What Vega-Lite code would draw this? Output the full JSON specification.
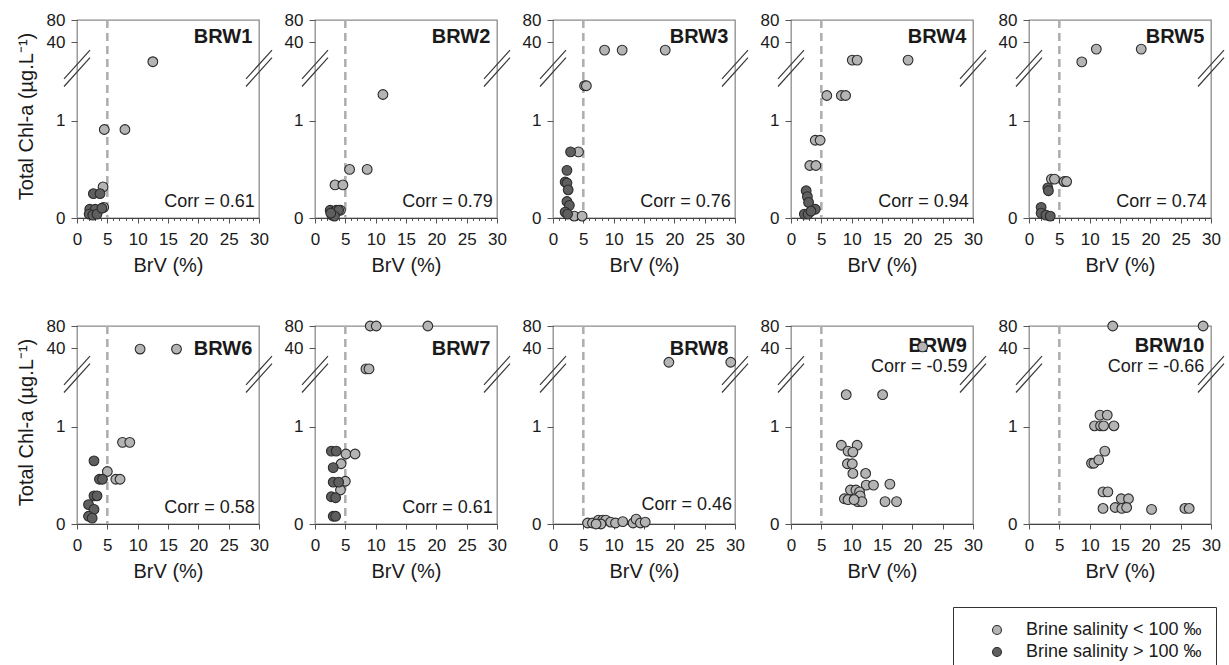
{
"$schema":"https://vega.github.io/schema/vega-lite/v6.json",
"padding":{"left":15,"top":10,"right":5,"bottom":5},
"datasets":{"d":[
{"p":"BRW1","x":4.3,"y":0.32,"s":"a"},{"p":"BRW1","x":4.4,"y":0.11,"s":"a"},{"p":"BRW1","x":4.5,"y":0.91,"s":"a"},{"p":"BRW1","x":7.9,"y":0.91,"s":"a"},{"p":"BRW1","x":12.5,"y":21.5,"s":"a"},
{"p":"BRW1","x":2.7,"y":0.25,"s":"b"},{"p":"BRW1","x":3.8,"y":0.25,"s":"b"},{"p":"BRW1","x":2.1,"y":0.09,"s":"b"},{"p":"BRW1","x":3.0,"y":0.09,"s":"b"},{"p":"BRW1","x":2.0,"y":0.04,"s":"b"},{"p":"BRW1","x":2.6,"y":0.03,"s":"b"},{"p":"BRW1","x":3.3,"y":0.04,"s":"b"},{"p":"BRW1","x":4.1,"y":0.1,"s":"b"},
{"p":"BRW2","x":11.2,"y":1.27,"s":"a"},{"p":"BRW2","x":5.7,"y":0.5,"s":"a"},{"p":"BRW2","x":8.6,"y":0.5,"s":"a"},{"p":"BRW2","x":3.3,"y":0.34,"s":"a"},{"p":"BRW2","x":4.6,"y":0.34,"s":"a"},{"p":"BRW2","x":4.2,"y":0.08,"s":"a"},
{"p":"BRW2","x":2.5,"y":0.08,"s":"b"},{"p":"BRW2","x":3.0,"y":0.06,"s":"b"},{"p":"BRW2","x":3.5,"y":0.08,"s":"b"},{"p":"BRW2","x":3.9,"y":0.08,"s":"b"},{"p":"BRW2","x":2.8,"y":0.03,"s":"b"},{"p":"BRW2","x":3.2,"y":0.02,"s":"b"},{"p":"BRW2","x":2.6,"y":0.05,"s":"b"},
{"p":"BRW3","x":8.5,"y":31,"s":"a"},{"p":"BRW3","x":11.4,"y":31,"s":"a"},{"p":"BRW3","x":18.5,"y":31,"s":"a"},{"p":"BRW3","x":5.2,"y":1.36,"s":"a"},{"p":"BRW3","x":5.5,"y":1.36,"s":"a"},{"p":"BRW3","x":4.2,"y":0.68,"s":"a"},{"p":"BRW3","x":3.5,"y":0.02,"s":"a"},{"p":"BRW3","x":4.8,"y":0.02,"s":"a"},
{"p":"BRW3","x":2.9,"y":0.68,"s":"b"},{"p":"BRW3","x":2.3,"y":0.49,"s":"b"},{"p":"BRW3","x":2.0,"y":0.37,"s":"b"},{"p":"BRW3","x":2.3,"y":0.36,"s":"b"},{"p":"BRW3","x":2.5,"y":0.29,"s":"b"},{"p":"BRW3","x":2.3,"y":0.17,"s":"b"},{"p":"BRW3","x":2.7,"y":0.13,"s":"b"},{"p":"BRW3","x":2.0,"y":0.06,"s":"b"},{"p":"BRW3","x":2.4,"y":0.04,"s":"b"},
{"p":"BRW4","x":10.1,"y":22.6,"s":"a"},{"p":"BRW4","x":10.9,"y":22.6,"s":"a"},{"p":"BRW4","x":19.3,"y":22.6,"s":"a"},{"p":"BRW4","x":5.9,"y":1.26,"s":"a"},{"p":"BRW4","x":8.3,"y":1.26,"s":"a"},{"p":"BRW4","x":9.0,"y":1.26,"s":"a"},{"p":"BRW4","x":4.0,"y":0.8,"s":"a"},{"p":"BRW4","x":4.8,"y":0.8,"s":"a"},{"p":"BRW4","x":3.1,"y":0.54,"s":"a"},{"p":"BRW4","x":4.1,"y":0.54,"s":"a"},
{"p":"BRW4","x":2.5,"y":0.28,"s":"b"},{"p":"BRW4","x":2.7,"y":0.22,"s":"b"},{"p":"BRW4","x":2.9,"y":0.16,"s":"b"},{"p":"BRW4","x":4.0,"y":0.09,"s":"b"},{"p":"BRW4","x":2.2,"y":0.04,"s":"b"},{"p":"BRW4","x":2.8,"y":0.04,"s":"b"},{"p":"BRW4","x":3.3,"y":0.07,"s":"b"},
{"p":"BRW5","x":8.7,"y":21.4,"s":"a"},{"p":"BRW5","x":11.1,"y":32,"s":"a"},{"p":"BRW5","x":18.5,"y":32,"s":"a"},{"p":"BRW5","x":3.7,"y":0.4,"s":"a"},{"p":"BRW5","x":4.2,"y":0.4,"s":"a"},{"p":"BRW5","x":5.8,"y":0.375,"s":"a"},{"p":"BRW5","x":6.2,"y":0.375,"s":"a"},
{"p":"BRW5","x":3.1,"y":0.31,"s":"b"},{"p":"BRW5","x":3.2,"y":0.28,"s":"b"},{"p":"BRW5","x":2.0,"y":0.11,"s":"b"},{"p":"BRW5","x":2.0,"y":0.05,"s":"b"},{"p":"BRW5","x":2.8,"y":0.03,"s":"b"},{"p":"BRW5","x":3.5,"y":0.02,"s":"b"},
{"p":"BRW6","x":10.4,"y":38.7,"s":"a"},{"p":"BRW6","x":16.4,"y":38.7,"s":"a"},{"p":"BRW6","x":7.5,"y":0.84,"s":"a"},{"p":"BRW6","x":8.7,"y":0.84,"s":"a"},{"p":"BRW6","x":5.0,"y":0.54,"s":"a"},{"p":"BRW6","x":6.4,"y":0.46,"s":"a"},{"p":"BRW6","x":7.1,"y":0.46,"s":"a"},
{"p":"BRW6","x":2.8,"y":0.65,"s":"b"},{"p":"BRW6","x":3.7,"y":0.46,"s":"b"},{"p":"BRW6","x":4.2,"y":0.46,"s":"b"},{"p":"BRW6","x":2.8,"y":0.29,"s":"b"},{"p":"BRW6","x":3.3,"y":0.29,"s":"b"},{"p":"BRW6","x":1.9,"y":0.2,"s":"b"},{"p":"BRW6","x":2.8,"y":0.15,"s":"b"},{"p":"BRW6","x":1.9,"y":0.08,"s":"b"},{"p":"BRW6","x":2.5,"y":0.06,"s":"b"},
{"p":"BRW7","x":9.1,"y":80,"s":"a"},{"p":"BRW7","x":10.1,"y":80,"s":"a"},{"p":"BRW7","x":18.6,"y":80,"s":"a"},{"p":"BRW7","x":8.4,"y":20.7,"s":"a"},{"p":"BRW7","x":8.9,"y":20.7,"s":"a"},{"p":"BRW7","x":5.1,"y":0.72,"s":"a"},{"p":"BRW7","x":6.6,"y":0.72,"s":"a"},{"p":"BRW7","x":4.3,"y":0.62,"s":"a"},{"p":"BRW7","x":5.0,"y":0.44,"s":"a"},{"p":"BRW7","x":4.2,"y":0.35,"s":"a"},
{"p":"BRW7","x":2.7,"y":0.75,"s":"b"},{"p":"BRW7","x":3.5,"y":0.75,"s":"b"},{"p":"BRW7","x":3.0,"y":0.58,"s":"b"},{"p":"BRW7","x":3.0,"y":0.43,"s":"b"},{"p":"BRW7","x":3.9,"y":0.43,"s":"b"},{"p":"BRW7","x":2.7,"y":0.28,"s":"b"},{"p":"BRW7","x":3.4,"y":0.27,"s":"b"},{"p":"BRW7","x":3.0,"y":0.08,"s":"b"},{"p":"BRW7","x":3.4,"y":0.08,"s":"b"},
{"p":"BRW8","x":19.1,"y":25.5,"s":"a"},{"p":"BRW8","x":29.3,"y":25.5,"s":"a"},{"p":"BRW8","x":5.7,"y":0.01,"s":"a"},{"p":"BRW8","x":6.5,"y":0.01,"s":"a"},{"p":"BRW8","x":7.5,"y":0.04,"s":"a"},{"p":"BRW8","x":8.2,"y":0.04,"s":"a"},{"p":"BRW8","x":8.7,"y":0.04,"s":"a"},{"p":"BRW8","x":9.5,"y":0.02,"s":"a"},{"p":"BRW8","x":10.3,"y":0.01,"s":"a"},{"p":"BRW8","x":11.5,"y":0.025,"s":"a"},{"p":"BRW8","x":13.2,"y":0.01,"s":"a"},{"p":"BRW8","x":13.7,"y":0.05,"s":"a"},{"p":"BRW8","x":14.4,"y":0.01,"s":"a"},{"p":"BRW8","x":15.2,"y":0.02,"s":"a"},{"p":"BRW8","x":7.9,"y":0.0,"s":"a"},{"p":"BRW8","x":7.1,"y":0.0,"s":"a"},
{"p":"BRW9","x":21.7,"y":41.4,"s":"a"},{"p":"BRW9","x":9.1,"y":1.33,"s":"a"},{"p":"BRW9","x":15.1,"y":1.33,"s":"a"},{"p":"BRW9","x":8.3,"y":0.81,"s":"a"},{"p":"BRW9","x":10.9,"y":0.81,"s":"a"},{"p":"BRW9","x":9.4,"y":0.75,"s":"a"},{"p":"BRW9","x":10.2,"y":0.74,"s":"a"},{"p":"BRW9","x":9.3,"y":0.62,"s":"a"},{"p":"BRW9","x":10.1,"y":0.62,"s":"a"},{"p":"BRW9","x":10.2,"y":0.52,"s":"a"},{"p":"BRW9","x":12.3,"y":0.52,"s":"a"},{"p":"BRW9","x":12.4,"y":0.4,"s":"a"},{"p":"BRW9","x":13.6,"y":0.4,"s":"a"},{"p":"BRW9","x":16.3,"y":0.41,"s":"a"},{"p":"BRW9","x":9.8,"y":0.35,"s":"a"},{"p":"BRW9","x":10.7,"y":0.35,"s":"a"},{"p":"BRW9","x":11.3,"y":0.33,"s":"a"},{"p":"BRW9","x":8.8,"y":0.26,"s":"a"},{"p":"BRW9","x":9.4,"y":0.25,"s":"a"},{"p":"BRW9","x":11.0,"y":0.23,"s":"a"},{"p":"BRW9","x":11.4,"y":0.29,"s":"a"},{"p":"BRW9","x":11.7,"y":0.23,"s":"a"},{"p":"BRW9","x":15.5,"y":0.23,"s":"a"},{"p":"BRW9","x":17.4,"y":0.23,"s":"a"},{"p":"BRW9","x":10.4,"y":0.25,"s":"a"},
{"p":"BRW10","x":13.8,"y":80,"s":"a"},{"p":"BRW10","x":28.7,"y":80,"s":"a"},{"p":"BRW10","x":11.7,"y":1.12,"s":"a"},{"p":"BRW10","x":12.9,"y":1.12,"s":"a"},{"p":"BRW10","x":10.8,"y":1.01,"s":"a"},{"p":"BRW10","x":11.8,"y":1.01,"s":"a"},{"p":"BRW10","x":12.3,"y":1.01,"s":"a"},{"p":"BRW10","x":14.0,"y":1.01,"s":"a"},{"p":"BRW10","x":12.5,"y":0.75,"s":"a"},{"p":"BRW10","x":10.3,"y":0.625,"s":"a"},{"p":"BRW10","x":10.7,"y":0.625,"s":"a"},{"p":"BRW10","x":11.5,"y":0.66,"s":"a"},{"p":"BRW10","x":12.2,"y":0.33,"s":"a"},{"p":"BRW10","x":13.0,"y":0.33,"s":"a"},{"p":"BRW10","x":15.2,"y":0.26,"s":"a"},{"p":"BRW10","x":16.4,"y":0.26,"s":"a"},{"p":"BRW10","x":12.2,"y":0.16,"s":"a"},{"p":"BRW10","x":14.2,"y":0.17,"s":"a"},{"p":"BRW10","x":15.3,"y":0.16,"s":"a"},{"p":"BRW10","x":16.1,"y":0.17,"s":"a"},{"p":"BRW10","x":20.2,"y":0.15,"s":"a"},{"p":"BRW10","x":25.7,"y":0.16,"s":"a"},{"p":"BRW10","x":26.4,"y":0.16,"s":"a"}
]},
"columns":5,
"spacing":{"row":108,"column":56},
"bounds":"flush",
"concat":[
{"width":182,"height":198,"layer":[
 {"data":{"values":[{}]},"mark":{"type":"rule","color":"#adadad","strokeWidth":2.5,"strokeDash":[8,5]},"encoding":{"x":{"datum":5,"type":"quantitative","axis":{"values":[0,1,2,3,4,5,6,7,8,9,10,11,12,13,14,15,16,17,18,19,20,21,22,23,24,25,26,27,28,29,30],"labelOverlap":false,"labelOpacity":{"condition":{"test":"datum.value % 5 === 0","value":1},"value":0},"tickDash":{"condition":{"test":"datum.value % 5 === 0","value":[6,0]},"value":[2.5,20]},"title":"BrV (%)"}}}},
 {"layer":[
  {"data":{"values":[{}]},"mark":{"type":"text","text":"BRW1","align":"right","baseline":"middle","fontSize":20,"fontWeight":"bold","color":"#1a1a1a"},"encoding":{"x":{"datum":28.9,"type":"quantitative","axis":{"values":[0,1,2,3,4,5,6,7,8,9,10,11,12,13,14,15,16,17,18,19,20,21,22,23,24,25,26,27,28,29,30],"labelOverlap":false,"labelOpacity":{"condition":{"test":"datum.value % 5 === 0","value":1},"value":0},"tickDash":{"condition":{"test":"datum.value % 5 === 0","value":[6,0]},"value":[2.5,20]},"title":"BrV (%)"}},"y":{"datum":1.86,"type":"quantitative"}}},
  {"data":{"values":[{}]},"mark":{"type":"text","text":"Corr = 0.61","align":"right","baseline":"middle","fontSize":18,"color":"#1a1a1a"},"encoding":{"x":{"datum":29.3,"type":"quantitative","axis":{"values":[0,1,2,3,4,5,6,7,8,9,10,11,12,13,14,15,16,17,18,19,20,21,22,23,24,25,26,27,28,29,30],"labelOverlap":false,"labelOpacity":{"condition":{"test":"datum.value % 5 === 0","value":1},"value":0},"tickDash":{"condition":{"test":"datum.value % 5 === 0","value":[6,0]},"value":[2.5,20]},"title":"BrV (%)"}},"y":{"datum":0.165,"type":"quantitative"}}},
  {"data":{"values":[{}]},"mark":{"type":"point","shape":"M-0.65,0.53L0.65,-0.91M-0.65,0.91L0.65,-0.53","size":1600,"filled":false,"stroke":"#3a3a3a","strokeWidth":1.2},"encoding":{"x":{"datum":0,"type":"quantitative","axis":{"values":[0,1,2,3,4,5,6,7,8,9,10,11,12,13,14,15,16,17,18,19,20,21,22,23,24,25,26,27,28,29,30],"labelOverlap":false,"labelOpacity":{"condition":{"test":"datum.value % 5 === 0","value":1},"value":0},"tickDash":{"condition":{"test":"datum.value % 5 === 0","value":[6,0]},"value":[2.5,20]},"title":"BrV (%)"}},"y":{"datum":1.54,"type":"quantitative"}}},
  {"data":{"values":[{}]},"mark":{"type":"point","shape":"M-0.65,0.53L0.65,-0.91M-0.65,0.91L0.65,-0.53","size":1600,"filled":false,"stroke":"#3a3a3a","strokeWidth":1.2},"encoding":{"x":{"datum":30,"type":"quantitative","axis":{"values":[0,1,2,3,4,5,6,7,8,9,10,11,12,13,14,15,16,17,18,19,20,21,22,23,24,25,26,27,28,29,30],"labelOverlap":false,"labelOpacity":{"condition":{"test":"datum.value % 5 === 0","value":1},"value":0},"tickDash":{"condition":{"test":"datum.value % 5 === 0","value":[6,0]},"value":[2.5,20]},"title":"BrV (%)"}},"y":{"datum":1.54,"type":"quantitative"}}},
  {"data":{"name":"d"},"transform":[{"filter":"datum.p=='BRW1' && datum.y<2"}],"mark":"point","encoding":{
   "x":{"field":"x","type":"quantitative","scale":{"domain":[0,30],"nice":false},"axis":{"values":[0,1,2,3,4,5,6,7,8,9,10,11,12,13,14,15,16,17,18,19,20,21,22,23,24,25,26,27,28,29,30],"labelOverlap":false,"labelOpacity":{"condition":{"test":"datum.value % 5 === 0","value":1},"value":0},"tickDash":{"condition":{"test":"datum.value % 5 === 0","value":[6,0]},"value":[2.5,20]},"title":"BrV (%)"}},
   "y":{"field":"y","type":"quantitative","scale":{"domain":[0,1.44],"range":[198,58],"nice":false,"zero":false},"axis":{"values":[0,1],"orient":"left","title":"Total Chl-a (µg.L⁻¹)","titleY":96}},
   "color":{"field":"s","type":"nominal","scale":{"domain":["a","b"],"range":["#b4b4b4","#5f5f5f"]},"legend":{"orient":"none","legendX":876,"legendY":587,"title":null,"labelExpr":"datum.value == 'a' ? 'Brine salinity < 100 ‰' : 'Brine salinity > 100 ‰'"}}}}
 ]},
 {"data":{"name":"d"},"transform":[{"filter":"datum.p=='BRW1' && datum.y>=2"}],"mark":"point","encoding":{
   "x":{"field":"x","type":"quantitative","scale":{"domain":[0,30],"nice":false},"axis":{"values":[0,1,2,3,4,5,6,7,8,9,10,11,12,13,14,15,16,17,18,19,20,21,22,23,24,25,26,27,28,29,30],"labelOverlap":false,"labelOpacity":{"condition":{"test":"datum.value % 5 === 0","value":1},"value":0},"tickDash":{"condition":{"test":"datum.value % 5 === 0","value":[6,0]},"value":[2.5,20]},"title":"BrV (%)"}},
   "y":{"field":"y","type":"quantitative","scale":{"type":"log","domain":[10,80],"range":[66,0],"nice":false},"axis":{"values":[40,80],"orient":"left","title":null}},
   "color":{"field":"s","type":"nominal"}}}
],"resolve":{"scale":{"y":"independent"},"axis":{"y":"independent"}}},

{"width":182,"height":198,"layer":[
 {"data":{"values":[{}]},"mark":{"type":"rule","color":"#adadad","strokeWidth":2.5,"strokeDash":[8,5]},"encoding":{"x":{"datum":5,"type":"quantitative","axis":{"values":[0,1,2,3,4,5,6,7,8,9,10,11,12,13,14,15,16,17,18,19,20,21,22,23,24,25,26,27,28,29,30],"labelOverlap":false,"labelOpacity":{"condition":{"test":"datum.value % 5 === 0","value":1},"value":0},"tickDash":{"condition":{"test":"datum.value % 5 === 0","value":[6,0]},"value":[2.5,20]},"title":"BrV (%)"}}}},
 {"layer":[
  {"data":{"values":[{}]},"mark":{"type":"text","text":"BRW2","align":"right","baseline":"middle","fontSize":20,"fontWeight":"bold","color":"#1a1a1a"},"encoding":{"x":{"datum":28.9,"type":"quantitative","axis":{"values":[0,1,2,3,4,5,6,7,8,9,10,11,12,13,14,15,16,17,18,19,20,21,22,23,24,25,26,27,28,29,30],"labelOverlap":false,"labelOpacity":{"condition":{"test":"datum.value % 5 === 0","value":1},"value":0},"tickDash":{"condition":{"test":"datum.value % 5 === 0","value":[6,0]},"value":[2.5,20]},"title":"BrV (%)"}},"y":{"datum":1.86,"type":"quantitative"}}},
  {"data":{"values":[{}]},"mark":{"type":"text","text":"Corr = 0.79","align":"right","baseline":"middle","fontSize":18,"color":"#1a1a1a"},"encoding":{"x":{"datum":29.3,"type":"quantitative","axis":{"values":[0,1,2,3,4,5,6,7,8,9,10,11,12,13,14,15,16,17,18,19,20,21,22,23,24,25,26,27,28,29,30],"labelOverlap":false,"labelOpacity":{"condition":{"test":"datum.value % 5 === 0","value":1},"value":0},"tickDash":{"condition":{"test":"datum.value % 5 === 0","value":[6,0]},"value":[2.5,20]},"title":"BrV (%)"}},"y":{"datum":0.165,"type":"quantitative"}}},
  {"data":{"values":[{}]},"mark":{"type":"point","shape":"M-0.65,0.53L0.65,-0.91M-0.65,0.91L0.65,-0.53","size":1600,"filled":false,"stroke":"#3a3a3a","strokeWidth":1.2},"encoding":{"x":{"datum":0,"type":"quantitative","axis":{"values":[0,1,2,3,4,5,6,7,8,9,10,11,12,13,14,15,16,17,18,19,20,21,22,23,24,25,26,27,28,29,30],"labelOverlap":false,"labelOpacity":{"condition":{"test":"datum.value % 5 === 0","value":1},"value":0},"tickDash":{"condition":{"test":"datum.value % 5 === 0","value":[6,0]},"value":[2.5,20]},"title":"BrV (%)"}},"y":{"datum":1.54,"type":"quantitative"}}},
  {"data":{"values":[{}]},"mark":{"type":"point","shape":"M-0.65,0.53L0.65,-0.91M-0.65,0.91L0.65,-0.53","size":1600,"filled":false,"stroke":"#3a3a3a","strokeWidth":1.2},"encoding":{"x":{"datum":30,"type":"quantitative","axis":{"values":[0,1,2,3,4,5,6,7,8,9,10,11,12,13,14,15,16,17,18,19,20,21,22,23,24,25,26,27,28,29,30],"labelOverlap":false,"labelOpacity":{"condition":{"test":"datum.value % 5 === 0","value":1},"value":0},"tickDash":{"condition":{"test":"datum.value % 5 === 0","value":[6,0]},"value":[2.5,20]},"title":"BrV (%)"}},"y":{"datum":1.54,"type":"quantitative"}}},
  {"data":{"name":"d"},"transform":[{"filter":"datum.p=='BRW2' && datum.y<2"}],"mark":"point","encoding":{
   "x":{"field":"x","type":"quantitative","scale":{"domain":[0,30],"nice":false},"axis":{"values":[0,1,2,3,4,5,6,7,8,9,10,11,12,13,14,15,16,17,18,19,20,21,22,23,24,25,26,27,28,29,30],"labelOverlap":false,"labelOpacity":{"condition":{"test":"datum.value % 5 === 0","value":1},"value":0},"tickDash":{"condition":{"test":"datum.value % 5 === 0","value":[6,0]},"value":[2.5,20]},"title":"BrV (%)"}},
   "y":{"field":"y","type":"quantitative","scale":{"domain":[0,1.44],"range":[198,58],"nice":false,"zero":false},"axis":{"values":[0,1],"orient":"left","title":null}},
   "color":{"field":"s","type":"nominal"}}}
 ]},
 {"data":{"name":"d"},"transform":[{"filter":"datum.p=='BRW2' && datum.y>=2"}],"mark":"point","encoding":{
   "x":{"field":"x","type":"quantitative","scale":{"domain":[0,30],"nice":false},"axis":{"values":[0,1,2,3,4,5,6,7,8,9,10,11,12,13,14,15,16,17,18,19,20,21,22,23,24,25,26,27,28,29,30],"labelOverlap":false,"labelOpacity":{"condition":{"test":"datum.value % 5 === 0","value":1},"value":0},"tickDash":{"condition":{"test":"datum.value % 5 === 0","value":[6,0]},"value":[2.5,20]},"title":"BrV (%)"}},
   "y":{"field":"y","type":"quantitative","scale":{"type":"log","domain":[10,80],"range":[66,0],"nice":false},"axis":{"values":[40,80],"orient":"left","title":null}},
   "color":{"field":"s","type":"nominal"}}}
],"resolve":{"scale":{"y":"independent"},"axis":{"y":"independent"}}},

{"width":182,"height":198,"layer":[
 {"data":{"values":[{}]},"mark":{"type":"rule","color":"#adadad","strokeWidth":2.5,"strokeDash":[8,5]},"encoding":{"x":{"datum":5,"type":"quantitative","axis":{"values":[0,1,2,3,4,5,6,7,8,9,10,11,12,13,14,15,16,17,18,19,20,21,22,23,24,25,26,27,28,29,30],"labelOverlap":false,"labelOpacity":{"condition":{"test":"datum.value % 5 === 0","value":1},"value":0},"tickDash":{"condition":{"test":"datum.value % 5 === 0","value":[6,0]},"value":[2.5,20]},"title":"BrV (%)"}}}},
 {"layer":[
  {"data":{"values":[{}]},"mark":{"type":"text","text":"BRW3","align":"right","baseline":"middle","fontSize":20,"fontWeight":"bold","color":"#1a1a1a"},"encoding":{"x":{"datum":28.9,"type":"quantitative","axis":{"values":[0,1,2,3,4,5,6,7,8,9,10,11,12,13,14,15,16,17,18,19,20,21,22,23,24,25,26,27,28,29,30],"labelOverlap":false,"labelOpacity":{"condition":{"test":"datum.value % 5 === 0","value":1},"value":0},"tickDash":{"condition":{"test":"datum.value % 5 === 0","value":[6,0]},"value":[2.5,20]},"title":"BrV (%)"}},"y":{"datum":1.86,"type":"quantitative"}}},
  {"data":{"values":[{}]},"mark":{"type":"text","text":"Corr = 0.76","align":"right","baseline":"middle","fontSize":18,"color":"#1a1a1a"},"encoding":{"x":{"datum":29.3,"type":"quantitative","axis":{"values":[0,1,2,3,4,5,6,7,8,9,10,11,12,13,14,15,16,17,18,19,20,21,22,23,24,25,26,27,28,29,30],"labelOverlap":false,"labelOpacity":{"condition":{"test":"datum.value % 5 === 0","value":1},"value":0},"tickDash":{"condition":{"test":"datum.value % 5 === 0","value":[6,0]},"value":[2.5,20]},"title":"BrV (%)"}},"y":{"datum":0.165,"type":"quantitative"}}},
  {"data":{"values":[{}]},"mark":{"type":"point","shape":"M-0.65,0.53L0.65,-0.91M-0.65,0.91L0.65,-0.53","size":1600,"filled":false,"stroke":"#3a3a3a","strokeWidth":1.2},"encoding":{"x":{"datum":0,"type":"quantitative","axis":{"values":[0,1,2,3,4,5,6,7,8,9,10,11,12,13,14,15,16,17,18,19,20,21,22,23,24,25,26,27,28,29,30],"labelOverlap":false,"labelOpacity":{"condition":{"test":"datum.value % 5 === 0","value":1},"value":0},"tickDash":{"condition":{"test":"datum.value % 5 === 0","value":[6,0]},"value":[2.5,20]},"title":"BrV (%)"}},"y":{"datum":1.54,"type":"quantitative"}}},
  {"data":{"values":[{}]},"mark":{"type":"point","shape":"M-0.65,0.53L0.65,-0.91M-0.65,0.91L0.65,-0.53","size":1600,"filled":false,"stroke":"#3a3a3a","strokeWidth":1.2},"encoding":{"x":{"datum":30,"type":"quantitative","axis":{"values":[0,1,2,3,4,5,6,7,8,9,10,11,12,13,14,15,16,17,18,19,20,21,22,23,24,25,26,27,28,29,30],"labelOverlap":false,"labelOpacity":{"condition":{"test":"datum.value % 5 === 0","value":1},"value":0},"tickDash":{"condition":{"test":"datum.value % 5 === 0","value":[6,0]},"value":[2.5,20]},"title":"BrV (%)"}},"y":{"datum":1.54,"type":"quantitative"}}},
  {"data":{"name":"d"},"transform":[{"filter":"datum.p=='BRW3' && datum.y<2"}],"mark":"point","encoding":{
   "x":{"field":"x","type":"quantitative","scale":{"domain":[0,30],"nice":false},"axis":{"values":[0,1,2,3,4,5,6,7,8,9,10,11,12,13,14,15,16,17,18,19,20,21,22,23,24,25,26,27,28,29,30],"labelOverlap":false,"labelOpacity":{"condition":{"test":"datum.value % 5 === 0","value":1},"value":0},"tickDash":{"condition":{"test":"datum.value % 5 === 0","value":[6,0]},"value":[2.5,20]},"title":"BrV (%)"}},
   "y":{"field":"y","type":"quantitative","scale":{"domain":[0,1.44],"range":[198,58],"nice":false,"zero":false},"axis":{"values":[0,1],"orient":"left","title":null}},
   "color":{"field":"s","type":"nominal"}}}
 ]},
 {"data":{"name":"d"},"transform":[{"filter":"datum.p=='BRW3' && datum.y>=2"}],"mark":"point","encoding":{
   "x":{"field":"x","type":"quantitative","scale":{"domain":[0,30],"nice":false},"axis":{"values":[0,1,2,3,4,5,6,7,8,9,10,11,12,13,14,15,16,17,18,19,20,21,22,23,24,25,26,27,28,29,30],"labelOverlap":false,"labelOpacity":{"condition":{"test":"datum.value % 5 === 0","value":1},"value":0},"tickDash":{"condition":{"test":"datum.value % 5 === 0","value":[6,0]},"value":[2.5,20]},"title":"BrV (%)"}},
   "y":{"field":"y","type":"quantitative","scale":{"type":"log","domain":[10,80],"range":[66,0],"nice":false},"axis":{"values":[40,80],"orient":"left","title":null}},
   "color":{"field":"s","type":"nominal"}}}
],"resolve":{"scale":{"y":"independent"},"axis":{"y":"independent"}}},

{"width":182,"height":198,"layer":[
 {"data":{"values":[{}]},"mark":{"type":"rule","color":"#adadad","strokeWidth":2.5,"strokeDash":[8,5]},"encoding":{"x":{"datum":5,"type":"quantitative","axis":{"values":[0,1,2,3,4,5,6,7,8,9,10,11,12,13,14,15,16,17,18,19,20,21,22,23,24,25,26,27,28,29,30],"labelOverlap":false,"labelOpacity":{"condition":{"test":"datum.value % 5 === 0","value":1},"value":0},"tickDash":{"condition":{"test":"datum.value % 5 === 0","value":[6,0]},"value":[2.5,20]},"title":"BrV (%)"}}}},
 {"layer":[
  {"data":{"values":[{}]},"mark":{"type":"text","text":"BRW4","align":"right","baseline":"middle","fontSize":20,"fontWeight":"bold","color":"#1a1a1a"},"encoding":{"x":{"datum":28.9,"type":"quantitative","axis":{"values":[0,1,2,3,4,5,6,7,8,9,10,11,12,13,14,15,16,17,18,19,20,21,22,23,24,25,26,27,28,29,30],"labelOverlap":false,"labelOpacity":{"condition":{"test":"datum.value % 5 === 0","value":1},"value":0},"tickDash":{"condition":{"test":"datum.value % 5 === 0","value":[6,0]},"value":[2.5,20]},"title":"BrV (%)"}},"y":{"datum":1.86,"type":"quantitative"}}},
  {"data":{"values":[{}]},"mark":{"type":"text","text":"Corr = 0.94","align":"right","baseline":"middle","fontSize":18,"color":"#1a1a1a"},"encoding":{"x":{"datum":29.3,"type":"quantitative","axis":{"values":[0,1,2,3,4,5,6,7,8,9,10,11,12,13,14,15,16,17,18,19,20,21,22,23,24,25,26,27,28,29,30],"labelOverlap":false,"labelOpacity":{"condition":{"test":"datum.value % 5 === 0","value":1},"value":0},"tickDash":{"condition":{"test":"datum.value % 5 === 0","value":[6,0]},"value":[2.5,20]},"title":"BrV (%)"}},"y":{"datum":0.165,"type":"quantitative"}}},
  {"data":{"values":[{}]},"mark":{"type":"point","shape":"M-0.65,0.53L0.65,-0.91M-0.65,0.91L0.65,-0.53","size":1600,"filled":false,"stroke":"#3a3a3a","strokeWidth":1.2},"encoding":{"x":{"datum":0,"type":"quantitative","axis":{"values":[0,1,2,3,4,5,6,7,8,9,10,11,12,13,14,15,16,17,18,19,20,21,22,23,24,25,26,27,28,29,30],"labelOverlap":false,"labelOpacity":{"condition":{"test":"datum.value % 5 === 0","value":1},"value":0},"tickDash":{"condition":{"test":"datum.value % 5 === 0","value":[6,0]},"value":[2.5,20]},"title":"BrV (%)"}},"y":{"datum":1.54,"type":"quantitative"}}},
  {"data":{"values":[{}]},"mark":{"type":"point","shape":"M-0.65,0.53L0.65,-0.91M-0.65,0.91L0.65,-0.53","size":1600,"filled":false,"stroke":"#3a3a3a","strokeWidth":1.2},"encoding":{"x":{"datum":30,"type":"quantitative","axis":{"values":[0,1,2,3,4,5,6,7,8,9,10,11,12,13,14,15,16,17,18,19,20,21,22,23,24,25,26,27,28,29,30],"labelOverlap":false,"labelOpacity":{"condition":{"test":"datum.value % 5 === 0","value":1},"value":0},"tickDash":{"condition":{"test":"datum.value % 5 === 0","value":[6,0]},"value":[2.5,20]},"title":"BrV (%)"}},"y":{"datum":1.54,"type":"quantitative"}}},
  {"data":{"name":"d"},"transform":[{"filter":"datum.p=='BRW4' && datum.y<2"}],"mark":"point","encoding":{
   "x":{"field":"x","type":"quantitative","scale":{"domain":[0,30],"nice":false},"axis":{"values":[0,1,2,3,4,5,6,7,8,9,10,11,12,13,14,15,16,17,18,19,20,21,22,23,24,25,26,27,28,29,30],"labelOverlap":false,"labelOpacity":{"condition":{"test":"datum.value % 5 === 0","value":1},"value":0},"tickDash":{"condition":{"test":"datum.value % 5 === 0","value":[6,0]},"value":[2.5,20]},"title":"BrV (%)"}},
   "y":{"field":"y","type":"quantitative","scale":{"domain":[0,1.44],"range":[198,58],"nice":false,"zero":false},"axis":{"values":[0,1],"orient":"left","title":null}},
   "color":{"field":"s","type":"nominal"}}}
 ]},
 {"data":{"name":"d"},"transform":[{"filter":"datum.p=='BRW4' && datum.y>=2"}],"mark":"point","encoding":{
   "x":{"field":"x","type":"quantitative","scale":{"domain":[0,30],"nice":false},"axis":{"values":[0,1,2,3,4,5,6,7,8,9,10,11,12,13,14,15,16,17,18,19,20,21,22,23,24,25,26,27,28,29,30],"labelOverlap":false,"labelOpacity":{"condition":{"test":"datum.value % 5 === 0","value":1},"value":0},"tickDash":{"condition":{"test":"datum.value % 5 === 0","value":[6,0]},"value":[2.5,20]},"title":"BrV (%)"}},
   "y":{"field":"y","type":"quantitative","scale":{"type":"log","domain":[10,80],"range":[66,0],"nice":false},"axis":{"values":[40,80],"orient":"left","title":null}},
   "color":{"field":"s","type":"nominal"}}}
],"resolve":{"scale":{"y":"independent"},"axis":{"y":"independent"}}},

{"width":182,"height":198,"layer":[
 {"data":{"values":[{}]},"mark":{"type":"rule","color":"#adadad","strokeWidth":2.5,"strokeDash":[8,5]},"encoding":{"x":{"datum":5,"type":"quantitative","axis":{"values":[0,1,2,3,4,5,6,7,8,9,10,11,12,13,14,15,16,17,18,19,20,21,22,23,24,25,26,27,28,29,30],"labelOverlap":false,"labelOpacity":{"condition":{"test":"datum.value % 5 === 0","value":1},"value":0},"tickDash":{"condition":{"test":"datum.value % 5 === 0","value":[6,0]},"value":[2.5,20]},"title":"BrV (%)"}}}},
 {"layer":[
  {"data":{"values":[{}]},"mark":{"type":"text","text":"BRW5","align":"right","baseline":"middle","fontSize":20,"fontWeight":"bold","color":"#1a1a1a"},"encoding":{"x":{"datum":28.9,"type":"quantitative","axis":{"values":[0,1,2,3,4,5,6,7,8,9,10,11,12,13,14,15,16,17,18,19,20,21,22,23,24,25,26,27,28,29,30],"labelOverlap":false,"labelOpacity":{"condition":{"test":"datum.value % 5 === 0","value":1},"value":0},"tickDash":{"condition":{"test":"datum.value % 5 === 0","value":[6,0]},"value":[2.5,20]},"title":"BrV (%)"}},"y":{"datum":1.86,"type":"quantitative"}}},
  {"data":{"values":[{}]},"mark":{"type":"text","text":"Corr = 0.74","align":"right","baseline":"middle","fontSize":18,"color":"#1a1a1a"},"encoding":{"x":{"datum":29.3,"type":"quantitative","axis":{"values":[0,1,2,3,4,5,6,7,8,9,10,11,12,13,14,15,16,17,18,19,20,21,22,23,24,25,26,27,28,29,30],"labelOverlap":false,"labelOpacity":{"condition":{"test":"datum.value % 5 === 0","value":1},"value":0},"tickDash":{"condition":{"test":"datum.value % 5 === 0","value":[6,0]},"value":[2.5,20]},"title":"BrV (%)"}},"y":{"datum":0.165,"type":"quantitative"}}},
  {"data":{"values":[{}]},"mark":{"type":"point","shape":"M-0.65,0.53L0.65,-0.91M-0.65,0.91L0.65,-0.53","size":1600,"filled":false,"stroke":"#3a3a3a","strokeWidth":1.2},"encoding":{"x":{"datum":0,"type":"quantitative","axis":{"values":[0,1,2,3,4,5,6,7,8,9,10,11,12,13,14,15,16,17,18,19,20,21,22,23,24,25,26,27,28,29,30],"labelOverlap":false,"labelOpacity":{"condition":{"test":"datum.value % 5 === 0","value":1},"value":0},"tickDash":{"condition":{"test":"datum.value % 5 === 0","value":[6,0]},"value":[2.5,20]},"title":"BrV (%)"}},"y":{"datum":1.54,"type":"quantitative"}}},
  {"data":{"values":[{}]},"mark":{"type":"point","shape":"M-0.65,0.53L0.65,-0.91M-0.65,0.91L0.65,-0.53","size":1600,"filled":false,"stroke":"#3a3a3a","strokeWidth":1.2},"encoding":{"x":{"datum":30,"type":"quantitative","axis":{"values":[0,1,2,3,4,5,6,7,8,9,10,11,12,13,14,15,16,17,18,19,20,21,22,23,24,25,26,27,28,29,30],"labelOverlap":false,"labelOpacity":{"condition":{"test":"datum.value % 5 === 0","value":1},"value":0},"tickDash":{"condition":{"test":"datum.value % 5 === 0","value":[6,0]},"value":[2.5,20]},"title":"BrV (%)"}},"y":{"datum":1.54,"type":"quantitative"}}},
  {"data":{"name":"d"},"transform":[{"filter":"datum.p=='BRW5' && datum.y<2"}],"mark":"point","encoding":{
   "x":{"field":"x","type":"quantitative","scale":{"domain":[0,30],"nice":false},"axis":{"values":[0,1,2,3,4,5,6,7,8,9,10,11,12,13,14,15,16,17,18,19,20,21,22,23,24,25,26,27,28,29,30],"labelOverlap":false,"labelOpacity":{"condition":{"test":"datum.value % 5 === 0","value":1},"value":0},"tickDash":{"condition":{"test":"datum.value % 5 === 0","value":[6,0]},"value":[2.5,20]},"title":"BrV (%)"}},
   "y":{"field":"y","type":"quantitative","scale":{"domain":[0,1.44],"range":[198,58],"nice":false,"zero":false},"axis":{"values":[0,1],"orient":"left","title":null}},
   "color":{"field":"s","type":"nominal"}}}
 ]},
 {"data":{"name":"d"},"transform":[{"filter":"datum.p=='BRW5' && datum.y>=2"}],"mark":"point","encoding":{
   "x":{"field":"x","type":"quantitative","scale":{"domain":[0,30],"nice":false},"axis":{"values":[0,1,2,3,4,5,6,7,8,9,10,11,12,13,14,15,16,17,18,19,20,21,22,23,24,25,26,27,28,29,30],"labelOverlap":false,"labelOpacity":{"condition":{"test":"datum.value % 5 === 0","value":1},"value":0},"tickDash":{"condition":{"test":"datum.value % 5 === 0","value":[6,0]},"value":[2.5,20]},"title":"BrV (%)"}},
   "y":{"field":"y","type":"quantitative","scale":{"type":"log","domain":[10,80],"range":[66,0],"nice":false},"axis":{"values":[40,80],"orient":"left","title":null}},
   "color":{"field":"s","type":"nominal"}}}
],"resolve":{"scale":{"y":"independent"},"axis":{"y":"independent"}}},

{"width":182,"height":198,"layer":[
 {"data":{"values":[{}]},"mark":{"type":"rule","color":"#adadad","strokeWidth":2.5,"strokeDash":[8,5]},"encoding":{"x":{"datum":5,"type":"quantitative","axis":{"values":[0,5,10,15,20,25,30],"labelOverlap":false,"title":"BrV (%)"}}}},
 {"layer":[
  {"data":{"values":[{}]},"mark":{"type":"text","text":"BRW6","align":"right","baseline":"middle","fontSize":20,"fontWeight":"bold","color":"#1a1a1a"},"encoding":{"x":{"datum":28.9,"type":"quantitative","axis":{"values":[0,5,10,15,20,25,30],"labelOverlap":false,"title":"BrV (%)"}},"y":{"datum":1.8,"type":"quantitative"}}},
  {"data":{"values":[{}]},"mark":{"type":"text","text":"Corr = 0.58","align":"right","baseline":"middle","fontSize":18,"color":"#1a1a1a"},"encoding":{"x":{"datum":29.3,"type":"quantitative","axis":{"values":[0,5,10,15,20,25,30],"labelOverlap":false,"title":"BrV (%)"}},"y":{"datum":0.165,"type":"quantitative"}}},
  {"data":{"values":[{}]},"mark":{"type":"point","shape":"M-0.65,0.53L0.65,-0.91M-0.65,0.91L0.65,-0.53","size":1600,"filled":false,"stroke":"#3a3a3a","strokeWidth":1.2},"encoding":{"x":{"datum":0,"type":"quantitative","axis":{"values":[0,5,10,15,20,25,30],"labelOverlap":false,"title":"BrV (%)"}},"y":{"datum":1.54,"type":"quantitative"}}},
  {"data":{"values":[{}]},"mark":{"type":"point","shape":"M-0.65,0.53L0.65,-0.91M-0.65,0.91L0.65,-0.53","size":1600,"filled":false,"stroke":"#3a3a3a","strokeWidth":1.2},"encoding":{"x":{"datum":30,"type":"quantitative","axis":{"values":[0,5,10,15,20,25,30],"labelOverlap":false,"title":"BrV (%)"}},"y":{"datum":1.54,"type":"quantitative"}}},
  {"data":{"name":"d"},"transform":[{"filter":"datum.p=='BRW6' && datum.y<2"}],"mark":"point","encoding":{
   "x":{"field":"x","type":"quantitative","scale":{"domain":[0,30],"nice":false},"axis":{"values":[0,5,10,15,20,25,30],"labelOverlap":false,"title":"BrV (%)"}},
   "y":{"field":"y","type":"quantitative","scale":{"domain":[0,1.44],"range":[198,58],"nice":false,"zero":false},"axis":{"values":[0,1],"orient":"left","title":"Total Chl-a (µg.L⁻¹)","titleY":96}},
   "color":{"field":"s","type":"nominal"}}}
 ]},
 {"data":{"name":"d"},"transform":[{"filter":"datum.p=='BRW6' && datum.y>=2"}],"mark":"point","encoding":{
   "x":{"field":"x","type":"quantitative","scale":{"domain":[0,30],"nice":false},"axis":{"values":[0,5,10,15,20,25,30],"labelOverlap":false,"title":"BrV (%)"}},
   "y":{"field":"y","type":"quantitative","scale":{"type":"log","domain":[10,80],"range":[66,0],"nice":false},"axis":{"values":[40,80],"orient":"left","title":null}},
   "color":{"field":"s","type":"nominal"}}}
],"resolve":{"scale":{"y":"independent"},"axis":{"y":"independent"}}},

{"width":182,"height":198,"layer":[
 {"data":{"values":[{}]},"mark":{"type":"rule","color":"#adadad","strokeWidth":2.5,"strokeDash":[8,5]},"encoding":{"x":{"datum":5,"type":"quantitative","axis":{"values":[0,5,10,15,20,25,30],"labelOverlap":false,"title":"BrV (%)"}}}},
 {"layer":[
  {"data":{"values":[{}]},"mark":{"type":"text","text":"BRW7","align":"right","baseline":"middle","fontSize":20,"fontWeight":"bold","color":"#1a1a1a"},"encoding":{"x":{"datum":28.9,"type":"quantitative","axis":{"values":[0,5,10,15,20,25,30],"labelOverlap":false,"title":"BrV (%)"}},"y":{"datum":1.8,"type":"quantitative"}}},
  {"data":{"values":[{}]},"mark":{"type":"text","text":"Corr = 0.61","align":"right","baseline":"middle","fontSize":18,"color":"#1a1a1a"},"encoding":{"x":{"datum":29.3,"type":"quantitative","axis":{"values":[0,5,10,15,20,25,30],"labelOverlap":false,"title":"BrV (%)"}},"y":{"datum":0.165,"type":"quantitative"}}},
  {"data":{"values":[{}]},"mark":{"type":"point","shape":"M-0.65,0.53L0.65,-0.91M-0.65,0.91L0.65,-0.53","size":1600,"filled":false,"stroke":"#3a3a3a","strokeWidth":1.2},"encoding":{"x":{"datum":0,"type":"quantitative","axis":{"values":[0,5,10,15,20,25,30],"labelOverlap":false,"title":"BrV (%)"}},"y":{"datum":1.54,"type":"quantitative"}}},
  {"data":{"values":[{}]},"mark":{"type":"point","shape":"M-0.65,0.53L0.65,-0.91M-0.65,0.91L0.65,-0.53","size":1600,"filled":false,"stroke":"#3a3a3a","strokeWidth":1.2},"encoding":{"x":{"datum":30,"type":"quantitative","axis":{"values":[0,5,10,15,20,25,30],"labelOverlap":false,"title":"BrV (%)"}},"y":{"datum":1.54,"type":"quantitative"}}},
  {"data":{"name":"d"},"transform":[{"filter":"datum.p=='BRW7' && datum.y<2"}],"mark":"point","encoding":{
   "x":{"field":"x","type":"quantitative","scale":{"domain":[0,30],"nice":false},"axis":{"values":[0,5,10,15,20,25,30],"labelOverlap":false,"title":"BrV (%)"}},
   "y":{"field":"y","type":"quantitative","scale":{"domain":[0,1.44],"range":[198,58],"nice":false,"zero":false},"axis":{"values":[0,1],"orient":"left","title":null}},
   "color":{"field":"s","type":"nominal"}}}
 ]},
 {"data":{"name":"d"},"transform":[{"filter":"datum.p=='BRW7' && datum.y>=2"}],"mark":"point","encoding":{
   "x":{"field":"x","type":"quantitative","scale":{"domain":[0,30],"nice":false},"axis":{"values":[0,5,10,15,20,25,30],"labelOverlap":false,"title":"BrV (%)"}},
   "y":{"field":"y","type":"quantitative","scale":{"type":"log","domain":[10,80],"range":[66,0],"nice":false},"axis":{"values":[40,80],"orient":"left","title":null}},
   "color":{"field":"s","type":"nominal"}}}
],"resolve":{"scale":{"y":"independent"},"axis":{"y":"independent"}}},

{"width":182,"height":198,"layer":[
 {"data":{"values":[{}]},"mark":{"type":"rule","color":"#adadad","strokeWidth":2.5,"strokeDash":[8,5]},"encoding":{"x":{"datum":5,"type":"quantitative","axis":{"values":[0,5,10,15,20,25,30],"labelOverlap":false,"title":"BrV (%)"}}}},
 {"layer":[
  {"data":{"values":[{}]},"mark":{"type":"text","text":"BRW8","align":"right","baseline":"middle","fontSize":20,"fontWeight":"bold","color":"#1a1a1a"},"encoding":{"x":{"datum":28.9,"type":"quantitative","axis":{"values":[0,5,10,15,20,25,30],"labelOverlap":false,"title":"BrV (%)"}},"y":{"datum":1.8,"type":"quantitative"}}},
  {"data":{"values":[{}]},"mark":{"type":"text","text":"Corr = 0.46","align":"right","baseline":"middle","fontSize":18,"color":"#1a1a1a"},"encoding":{"x":{"datum":29.5,"type":"quantitative","axis":{"values":[0,5,10,15,20,25,30],"labelOverlap":false,"title":"BrV (%)"}},"y":{"datum":0.2,"type":"quantitative"}}},
  {"data":{"values":[{}]},"mark":{"type":"point","shape":"M-0.65,0.53L0.65,-0.91M-0.65,0.91L0.65,-0.53","size":1600,"filled":false,"stroke":"#3a3a3a","strokeWidth":1.2},"encoding":{"x":{"datum":0,"type":"quantitative","axis":{"values":[0,5,10,15,20,25,30],"labelOverlap":false,"title":"BrV (%)"}},"y":{"datum":1.54,"type":"quantitative"}}},
  {"data":{"values":[{}]},"mark":{"type":"point","shape":"M-0.65,0.53L0.65,-0.91M-0.65,0.91L0.65,-0.53","size":1600,"filled":false,"stroke":"#3a3a3a","strokeWidth":1.2},"encoding":{"x":{"datum":30,"type":"quantitative","axis":{"values":[0,5,10,15,20,25,30],"labelOverlap":false,"title":"BrV (%)"}},"y":{"datum":1.54,"type":"quantitative"}}},
  {"data":{"name":"d"},"transform":[{"filter":"datum.p=='BRW8' && datum.y<2"}],"mark":"point","encoding":{
   "x":{"field":"x","type":"quantitative","scale":{"domain":[0,30],"nice":false},"axis":{"values":[0,5,10,15,20,25,30],"labelOverlap":false,"title":"BrV (%)"}},
   "y":{"field":"y","type":"quantitative","scale":{"domain":[0,1.44],"range":[198,58],"nice":false,"zero":false},"axis":{"values":[0,1],"orient":"left","title":null}},
   "color":{"field":"s","type":"nominal"}}}
 ]},
 {"data":{"name":"d"},"transform":[{"filter":"datum.p=='BRW8' && datum.y>=2"}],"mark":"point","encoding":{
   "x":{"field":"x","type":"quantitative","scale":{"domain":[0,30],"nice":false},"axis":{"values":[0,5,10,15,20,25,30],"labelOverlap":false,"title":"BrV (%)"}},
   "y":{"field":"y","type":"quantitative","scale":{"type":"log","domain":[10,80],"range":[66,0],"nice":false},"axis":{"values":[40,80],"orient":"left","title":null}},
   "color":{"field":"s","type":"nominal"}}}
],"resolve":{"scale":{"y":"independent"},"axis":{"y":"independent"}}},

{"width":182,"height":198,"layer":[
 {"data":{"values":[{}]},"mark":{"type":"rule","color":"#adadad","strokeWidth":2.5,"strokeDash":[8,5]},"encoding":{"x":{"datum":5,"type":"quantitative","axis":{"values":[0,5,10,15,20,25,30],"labelOverlap":false,"title":"BrV (%)"}}}},
 {"layer":[
  {"data":{"values":[{}]},"mark":{"type":"text","text":"BRW9","align":"right","baseline":"middle","fontSize":20,"fontWeight":"bold","color":"#1a1a1a"},"encoding":{"x":{"datum":29.0,"type":"quantitative","axis":{"values":[0,5,10,15,20,25,30],"labelOverlap":false,"title":"BrV (%)"}},"y":{"datum":1.83,"type":"quantitative"}}},
  {"data":{"values":[{}]},"mark":{"type":"text","text":"Corr = -0.59","align":"right","baseline":"middle","fontSize":18,"color":"#1a1a1a"},"encoding":{"x":{"datum":29.1,"type":"quantitative","axis":{"values":[0,5,10,15,20,25,30],"labelOverlap":false,"title":"BrV (%)"}},"y":{"datum":1.615,"type":"quantitative"}}},
  {"data":{"values":[{}]},"mark":{"type":"point","shape":"M-0.65,0.53L0.65,-0.91M-0.65,0.91L0.65,-0.53","size":1600,"filled":false,"stroke":"#3a3a3a","strokeWidth":1.2},"encoding":{"x":{"datum":0,"type":"quantitative","axis":{"values":[0,5,10,15,20,25,30],"labelOverlap":false,"title":"BrV (%)"}},"y":{"datum":1.54,"type":"quantitative"}}},
  {"data":{"values":[{}]},"mark":{"type":"point","shape":"M-0.65,0.53L0.65,-0.91M-0.65,0.91L0.65,-0.53","size":1600,"filled":false,"stroke":"#3a3a3a","strokeWidth":1.2},"encoding":{"x":{"datum":30,"type":"quantitative","axis":{"values":[0,5,10,15,20,25,30],"labelOverlap":false,"title":"BrV (%)"}},"y":{"datum":1.54,"type":"quantitative"}}},
  {"data":{"name":"d"},"transform":[{"filter":"datum.p=='BRW9' && datum.y<2"}],"mark":"point","encoding":{
   "x":{"field":"x","type":"quantitative","scale":{"domain":[0,30],"nice":false},"axis":{"values":[0,5,10,15,20,25,30],"labelOverlap":false,"title":"BrV (%)"}},
   "y":{"field":"y","type":"quantitative","scale":{"domain":[0,1.44],"range":[198,58],"nice":false,"zero":false},"axis":{"values":[0,1],"orient":"left","title":null}},
   "color":{"field":"s","type":"nominal"}}}
 ]},
 {"data":{"name":"d"},"transform":[{"filter":"datum.p=='BRW9' && datum.y>=2"}],"mark":"point","encoding":{
   "x":{"field":"x","type":"quantitative","scale":{"domain":[0,30],"nice":false},"axis":{"values":[0,5,10,15,20,25,30],"labelOverlap":false,"title":"BrV (%)"}},
   "y":{"field":"y","type":"quantitative","scale":{"type":"log","domain":[10,80],"range":[66,0],"nice":false},"axis":{"values":[40,80],"orient":"left","title":null}},
   "color":{"field":"s","type":"nominal"}}}
],"resolve":{"scale":{"y":"independent"},"axis":{"y":"independent"}}},

{"width":182,"height":198,"layer":[
 {"data":{"values":[{}]},"mark":{"type":"rule","color":"#adadad","strokeWidth":2.5,"strokeDash":[8,5]},"encoding":{"x":{"datum":5,"type":"quantitative","axis":{"values":[0,5,10,15,20,25,30],"labelOverlap":false,"title":"BrV (%)"}}}},
 {"layer":[
  {"data":{"values":[{}]},"mark":{"type":"text","text":"BRW10","align":"right","baseline":"middle","fontSize":20,"fontWeight":"bold","color":"#1a1a1a"},"encoding":{"x":{"datum":28.9,"type":"quantitative","axis":{"values":[0,5,10,15,20,25,30],"labelOverlap":false,"title":"BrV (%)"}},"y":{"datum":1.83,"type":"quantitative"}}},
  {"data":{"values":[{}]},"mark":{"type":"text","text":"Corr = -0.66","align":"right","baseline":"middle","fontSize":18,"color":"#1a1a1a"},"encoding":{"x":{"datum":28.9,"type":"quantitative","axis":{"values":[0,5,10,15,20,25,30],"labelOverlap":false,"title":"BrV (%)"}},"y":{"datum":1.615,"type":"quantitative"}}},
  {"data":{"values":[{}]},"mark":{"type":"point","shape":"M-0.65,0.53L0.65,-0.91M-0.65,0.91L0.65,-0.53","size":1600,"filled":false,"stroke":"#3a3a3a","strokeWidth":1.2},"encoding":{"x":{"datum":0,"type":"quantitative","axis":{"values":[0,5,10,15,20,25,30],"labelOverlap":false,"title":"BrV (%)"}},"y":{"datum":1.54,"type":"quantitative"}}},
  {"data":{"values":[{}]},"mark":{"type":"point","shape":"M-0.65,0.53L0.65,-0.91M-0.65,0.91L0.65,-0.53","size":1600,"filled":false,"stroke":"#3a3a3a","strokeWidth":1.2},"encoding":{"x":{"datum":30,"type":"quantitative","axis":{"values":[0,5,10,15,20,25,30],"labelOverlap":false,"title":"BrV (%)"}},"y":{"datum":1.54,"type":"quantitative"}}},
  {"data":{"name":"d"},"transform":[{"filter":"datum.p=='BRW10' && datum.y<2"}],"mark":"point","encoding":{
   "x":{"field":"x","type":"quantitative","scale":{"domain":[0,30],"nice":false},"axis":{"values":[0,5,10,15,20,25,30],"labelOverlap":false,"title":"BrV (%)"}},
   "y":{"field":"y","type":"quantitative","scale":{"domain":[0,1.44],"range":[198,58],"nice":false,"zero":false},"axis":{"values":[0,1],"orient":"left","title":null}},
   "color":{"field":"s","type":"nominal"}}}
 ]},
 {"data":{"name":"d"},"transform":[{"filter":"datum.p=='BRW10' && datum.y>=2"}],"mark":"point","encoding":{
   "x":{"field":"x","type":"quantitative","scale":{"domain":[0,30],"nice":false},"axis":{"values":[0,5,10,15,20,25,30],"labelOverlap":false,"title":"BrV (%)"}},
   "y":{"field":"y","type":"quantitative","scale":{"type":"log","domain":[10,80],"range":[66,0],"nice":false},"axis":{"values":[40,80],"orient":"left","title":null}},
   "color":{"field":"s","type":"nominal"}}}
],"resolve":{"scale":{"y":"independent"},"axis":{"y":"independent"}}}
],
"config":{
 "font":"Liberation Sans",
 "view":{"stroke":"#8c8c8c","strokeWidth":1.3},
 "axis":{"labelFontSize":17,"titleFontSize":20,"titleFontWeight":"normal","labelColor":"#1a1a1a","titleColor":"#1a1a1a","tickColor":"#555555","grid":false,"domain":false,"labelPadding":6,"tickSize":6,"labelOverlap":false,"labelFlush":false,"format":"~g","titlePadding":19},
 "axisX":{"domain":true,"domainColor":"#444444","labelPadding":8,"titlePadding":8,"tickSize":5},
 "point":{"filled":true,"size":95,"stroke":"#2b2b2b","strokeWidth":1.1,"opacity":1},
 "legend":{"labelFontSize":18,"labelColor":"#1a1a1a","labelLimit":400,"strokeColor":"#333333","padding":14,"symbolOffset":21,"rowPadding":4,"symbolSize":80,"symbolStrokeColor":"#2b2b2b","symbolStrokeWidth":1,"labelOffset":20}
}
}
